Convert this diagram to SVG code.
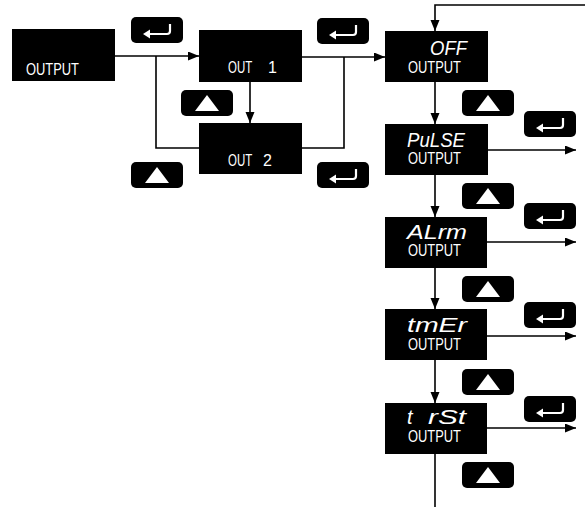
<svg xmlns="http://www.w3.org/2000/svg" width="585" height="507" viewBox="0 0 585 507">
<style>
.node{fill:#000}
.btn{fill:#000}
.lbl{fill:#fff;font-family:"Liberation Sans",Arial,sans-serif;font-size:16px}
.big{fill:#fff;font-family:"Liberation Sans",Arial,sans-serif;font-size:20px;font-style:italic}
.con{fill:none;stroke:#000;stroke-width:1.6}
.ico{fill:none;stroke:#fff;stroke-width:2.2}
</style>
<defs>
<marker id="ah" markerUnits="userSpaceOnUse" markerWidth="12" markerHeight="10" refX="11" refY="4.5" orient="auto">
<path d="M0,0 L11,4.5 L0,9 z" fill="#000"/>
</marker>
<g id="up"><rect class="btn" width="52" height="26" rx="5"/><polygon points="26,5 38,21 14,21" fill="#fff"/></g>
<g id="ent"><rect class="btn" width="52" height="26" rx="5"/><path class="ico" d="M39,7 V14 Q39,17 36,17 H17"/><polygon points="12,17 19,12.5 19,21.5" fill="#fff"/></g>
</defs>
<g id="connectors">
<path class="con" d="M115,56 H199" marker-end="url(#ah)"/>
<path class="con" d="M156,56 V148 H199"/>
<path class="con" d="M250,82 V123" marker-end="url(#ah)"/>
<path class="con" d="M302,57 H385" marker-end="url(#ah)"/>
<path class="con" d="M344,57 V148 H302"/>
<path class="con" d="M585,5 H435 V31" marker-end="url(#ah)"/>
<path class="con" d="M435,82 V124" marker-end="url(#ah)"/>
<path class="con" d="M435,175 V217" marker-end="url(#ah)"/>
<path class="con" d="M435,268 V309" marker-end="url(#ah)"/>
<path class="con" d="M435,360 V403" marker-end="url(#ah)"/>
<path class="con" d="M435,454 V507"/>
<path class="con" d="M487,150 H576" marker-end="url(#ah)"/>
<path class="con" d="M487,242 H576" marker-end="url(#ah)"/>
<path class="con" d="M487,336 H576" marker-end="url(#ah)"/>
<path class="con" d="M487,428 H576" marker-end="url(#ah)"/>
</g>
<g id="buttons">
<use href="#ent" x="131" y="17"/>
<use href="#up" x="181" y="90"/>
<use href="#up" x="131" y="162"/>
<use href="#ent" x="317" y="18"/>
<use href="#ent" x="317" y="162"/>
<use href="#up" x="462" y="90"/>
<use href="#up" x="462" y="183"/>
<use href="#up" x="462" y="276"/>
<use href="#up" x="462" y="369"/>
<use href="#up" x="462" y="462"/>
<use href="#ent" x="524" y="111"/>
<use href="#ent" x="524" y="203"/>
<use href="#ent" x="524" y="302"/>
<use href="#ent" x="524" y="396"/>
</g>
<g id="n-output"><rect class="node" x="12" y="29" width="103" height="52"/><text class="lbl" x="26" y="75" textLength="53" lengthAdjust="spacingAndGlyphs">OUTPUT</text></g>
<g id="n-out1"><rect class="node" x="199" y="30" width="103" height="52"/><text class="lbl"><tspan x="228" y="73" textLength="24" lengthAdjust="spacingAndGlyphs">OUT</tspan> <tspan x="268" y="73">1</tspan></text></g>
<g id="n-out2"><rect class="node" x="199" y="123" width="103" height="51"/><text class="lbl"><tspan x="228" y="166" textLength="24" lengthAdjust="spacingAndGlyphs">OUT</tspan> <tspan x="263" y="166">2</tspan></text></g>
<g id="n-off"><rect class="node" x="385" y="31" width="103" height="51"/><text class="big" x="430" y="55" textLength="37" lengthAdjust="spacingAndGlyphs">OFF</text><text class="lbl" x="408" y="73" textLength="53" lengthAdjust="spacingAndGlyphs">OUTPUT</text></g>
<g id="n-pulse"><rect class="node" x="385" y="124" width="103" height="51"/><text class="big" x="407" y="147" textLength="58" lengthAdjust="spacingAndGlyphs">PuLSE</text><text class="lbl" x="408" y="164" textLength="53" lengthAdjust="spacingAndGlyphs">OUTPUT</text></g>
<g id="n-alrm"><rect class="node" x="385" y="217" width="102" height="51"/><text class="big" x="407" y="239" textLength="60" lengthAdjust="spacingAndGlyphs">ALrm</text><text class="lbl" x="408" y="256" textLength="53" lengthAdjust="spacingAndGlyphs">OUTPUT</text></g>
<g id="n-tmer"><rect class="node" x="385" y="309" width="102" height="51"/><text class="big" x="407" y="332" textLength="60" lengthAdjust="spacingAndGlyphs">tmEr</text><text class="lbl" x="408" y="350" textLength="53" lengthAdjust="spacingAndGlyphs">OUTPUT</text></g>
<g id="n-trst"><rect class="node" x="385" y="403" width="102" height="51"/><text class="big"><tspan x="407" y="424">t</tspan> <tspan x="428" y="424" textLength="38" lengthAdjust="spacingAndGlyphs">rSt</tspan></text><text class="lbl" x="408" y="442" textLength="53" lengthAdjust="spacingAndGlyphs">OUTPUT</text></g>
</svg>
